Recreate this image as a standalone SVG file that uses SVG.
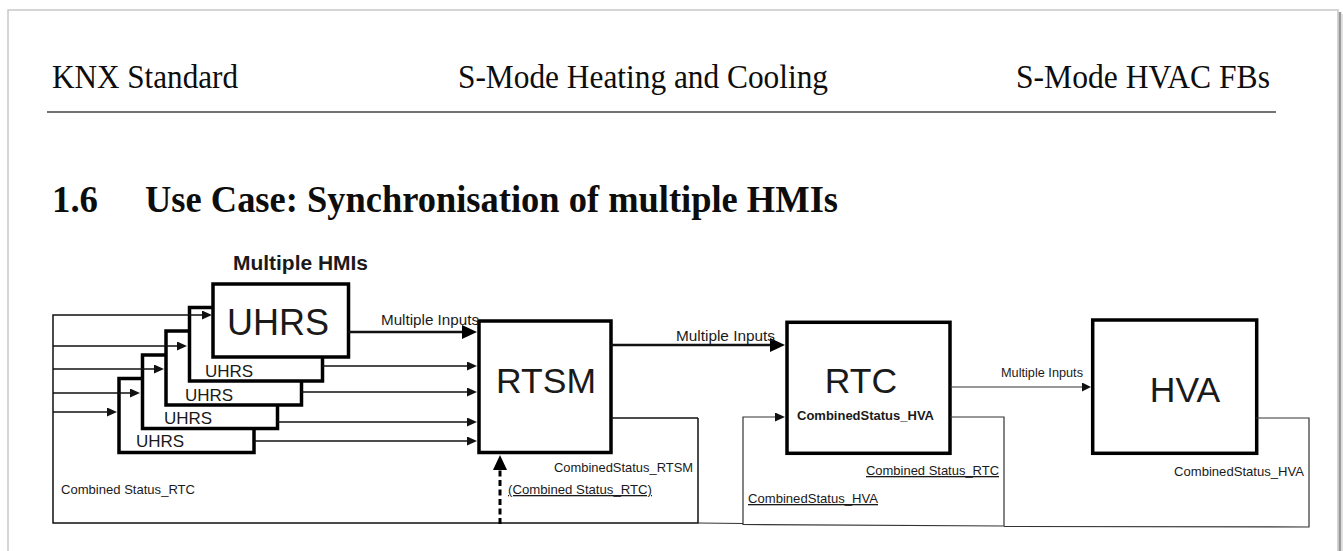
<svg xmlns="http://www.w3.org/2000/svg" width="1343" height="551" viewBox="0 0 1343 551">
<style>
.hdr{font-family:"Liberation Serif","Times New Roman",serif;font-size:33px;fill:#0d0d0d}
.ttl{font-family:"Liberation Serif","Times New Roman",serif;font-size:38px;font-weight:bold;fill:#0d0d0d}
.sans{font-family:"Liberation Sans",Arial,sans-serif;fill:#1a1a1a}
.box{fill:#fff;stroke:#000;stroke-width:3.5}
.big{font-size:35.5px;text-anchor:middle}
.small{font-size:17px}
.lbl{font-size:13px}
.ul{text-decoration:underline}
.c1{fill:none;stroke:#111;stroke-width:1.5}
.c2{fill:none;stroke:#111;stroke-width:2.6}
.c0{fill:none;stroke:#333;stroke-width:1.2}
</style>
<defs>
<marker id="aS" markerUnits="userSpaceOnUse" markerWidth="10" markerHeight="10" refX="7" refY="4.5" orient="auto"><path d="M0,0 L10,4.5 L0,9 z" fill="#111"/></marker>
<marker id="aT" markerUnits="userSpaceOnUse" markerWidth="10" markerHeight="10" refX="6" refY="4.5" orient="auto"><path d="M0,0 L9,4.5 L0,9 z" fill="#111"/></marker>
<marker id="aL" markerUnits="userSpaceOnUse" markerWidth="16" markerHeight="15" refX="9" refY="7" orient="auto"><path d="M0,0 L15,7 L0,14 z" fill="#000"/></marker>
</defs>
<rect width="1343" height="551" fill="#fff"/>
<g id="page">
<path d="M8,551 V10 H1338 V551" fill="none" stroke="#c8c8c8" stroke-width="1.5"/>
<line x1="1340" y1="12" x2="1340" y2="551" stroke="#9a9a9a" stroke-width="2.5"/>
<line x1="1342" y1="14" x2="1342" y2="551" stroke="#d8d8d8" stroke-width="1.5"/>
</g>
<g id="header">
<text class="hdr" x="52" y="88" textLength="186" lengthAdjust="spacingAndGlyphs">KNX Standard</text>
<text class="hdr" x="458" y="88" textLength="370" lengthAdjust="spacingAndGlyphs">S-Mode Heating and Cooling</text>
<text class="hdr" x="1016" y="88" textLength="254" lengthAdjust="spacingAndGlyphs">S-Mode HVAC FBs</text>
<line x1="47" y1="112" x2="1276" y2="112" stroke="#444" stroke-width="1.5"/>
<text class="ttl" x="52" y="212" textLength="46" lengthAdjust="spacingAndGlyphs">1.6</text>
<text class="ttl" x="145" y="212" textLength="693" lengthAdjust="spacingAndGlyphs">Use Case: Synchronisation of multiple HMIs</text>
</g>
<text class="sans" x="233" y="270" font-size="20" font-weight="bold" textLength="135" lengthAdjust="spacingAndGlyphs">Multiple HMIs</text>
<g id="uhrs4"><rect class="box" x="119" y="378.5" width="135" height="74"/><text class="sans small" x="136" y="447">UHRS</text></g>
<g id="uhrs3"><rect class="box" x="142.5" y="355" width="135" height="73.5"/><text class="sans small" x="164" y="424">UHRS</text></g>
<g id="uhrs2"><rect class="box" x="166" y="331" width="135.5" height="74"/><text class="sans small" x="185" y="401">UHRS</text></g>
<g id="uhrs1"><rect class="box" x="189.5" y="307.5" width="133" height="73.5"/><text class="sans small" x="205" y="377">UHRS</text></g>
<g id="uhrs0"><rect class="box" x="213" y="284" width="135.5" height="73"/><text class="sans" x="227" y="335" font-size="36">UHRS</text></g>
<g id="rtsm"><rect class="box" x="479" y="321" width="132" height="131.5"/><text class="sans big" x="546" y="393">RTSM</text></g>
<g id="rtc"><rect class="box" x="787" y="322.3" width="163" height="131"/><text class="sans big" x="861" y="393">RTC</text><text class="sans lbl" x="797" y="420" font-weight="bold" textLength="137" lengthAdjust="spacingAndGlyphs">CombinedStatus_HVA</text></g>
<g id="hva"><rect class="box" x="1092.7" y="320" width="164" height="133.3"/><text class="sans big" x="1185" y="402">HVA</text></g>
<g id="connectors">
<polyline class="c1" points="698,418 698,523 53,523 53,315 209,315" marker-end="url(#aS)"/>
<line class="c1" x1="53" y1="346" x2="184" y2="346" marker-end="url(#aS)"/>
<line class="c1" x1="53" y1="369" x2="161" y2="369" marker-end="url(#aS)"/>
<line class="c1" x1="53" y1="393" x2="137" y2="393" marker-end="url(#aS)"/>
<line class="c1" x1="53" y1="412" x2="114" y2="412" marker-end="url(#aS)"/>
<line class="c2" x1="348" y1="332" x2="471" y2="332" marker-end="url(#aL)"/>
<line class="c1" x1="322" y1="366" x2="474" y2="366" marker-end="url(#aS)"/>
<line class="c1" x1="301" y1="392" x2="474" y2="392" marker-end="url(#aS)"/>
<line class="c1" x1="277" y1="422" x2="474" y2="422" marker-end="url(#aS)"/>
<line class="c1" x1="254" y1="441" x2="474" y2="441" marker-end="url(#aS)"/>
<line class="c1" x1="611" y1="418" x2="698" y2="418"/>
<line class="c2" x1="611" y1="345" x2="779" y2="345" marker-end="url(#aL)"/>
<line x1="500" y1="524" x2="500" y2="461" stroke="#000" stroke-width="3" stroke-dasharray="6,3.5" marker-end="url(#aL)"/>
<polyline class="c0" points="950,417 1004,417 1004,526 743,524.5 743,417 782,417" marker-end="url(#aS)"/>
<line class="c0" x1="698" y1="523" x2="743" y2="523.5"/>
<line class="c0" x1="950" y1="387" x2="1088" y2="387" marker-end="url(#aT)"/>
<polyline class="c0" points="1256,418 1309,418 1309,527 1004,526.5"/>
</g>
<g id="labels">
<text class="sans" x="381" y="325" font-size="15" textLength="98" lengthAdjust="spacingAndGlyphs">Multiple Inputs</text>
<text class="sans" x="676" y="341" font-size="15" textLength="99" lengthAdjust="spacingAndGlyphs">Multiple Inputs</text>
<text class="sans" x="1001" y="377" font-size="12.5" textLength="82" lengthAdjust="spacingAndGlyphs">Multiple Inputs</text>
<text class="sans lbl" x="554" y="472" textLength="139" lengthAdjust="spacingAndGlyphs">CombinedStatus_RTSM</text>
<text class="sans lbl ul" x="508" y="494" textLength="144" lengthAdjust="spacingAndGlyphs">(Combined Status_RTC)</text>
<text class="sans lbl" x="61" y="494" textLength="134" lengthAdjust="spacingAndGlyphs">Combined Status_RTC</text>
<text class="sans lbl ul" x="866" y="475" textLength="133" lengthAdjust="spacingAndGlyphs">Combined Status_RTC</text>
<text class="sans lbl ul" x="748" y="503" textLength="130" lengthAdjust="spacingAndGlyphs">CombinedStatus_HVA</text>
<text class="sans lbl" x="1174" y="476" textLength="130" lengthAdjust="spacingAndGlyphs">CombinedStatus_HVA</text>
</g>
</svg>
